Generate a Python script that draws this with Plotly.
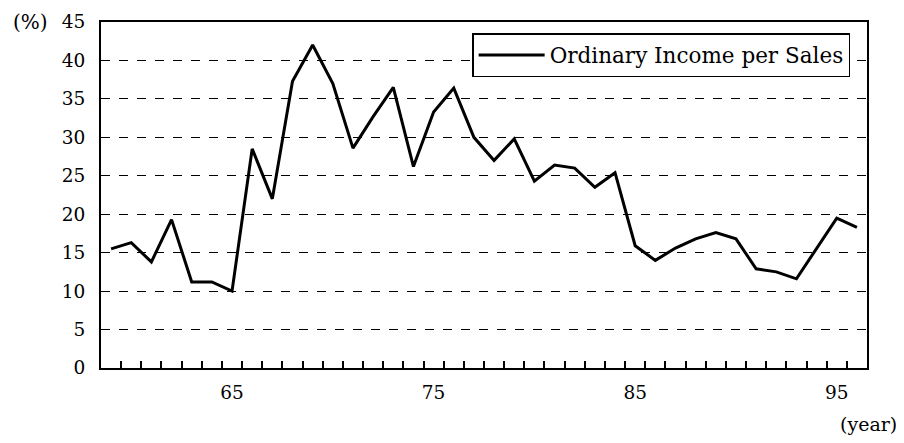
import plotly.graph_objects as go

years = list(range(1959, 1997))
values = [15.5, 16.3, 13.8, 19.3, 11.2, 11.2, 10.0, 28.5, 22.0, 37.3,
          42.0, 37.0, 28.6, 32.7, 36.5, 26.2, 33.3, 36.4, 30.0, 27.0,
          29.8, 24.3, 26.4, 26.0, 23.5, 25.4, 15.9, 14.0, 15.6, 16.8,
          17.6, 16.8, 12.9, 12.5, 11.6, 15.5, 19.5, 18.3]
y_ticks = list(range(0, 50, 5))
x_label_years = [1965, 1975, 1985, 1995]
x_labels = ["65", "75", "85", "95"]
series_name = "Ordinary Income per Sales"

FONT = "DejaVu Serif"

# page body has an 8px default margin; figure is sized to fit the window
fig = go.Figure()
fig.add_trace(go.Scatter(
    x=years, y=values, mode="lines", name=series_name,
    line=dict(color="black", width=3),
))

fig.update_layout(
    width=896, height=435,
    margin=dict(l=93, r=37, t=14, b=75),
    paper_bgcolor="white", plot_bgcolor="white",
    font=dict(family=FONT, size=18, color="black"),
    showlegend=True,
    legend=dict(
        x=0.978, y=0.968, xanchor="right", yanchor="top",
        bordercolor="black", borderwidth=1.5, bgcolor="white",
        font=dict(family=FONT, size=21.5, color="black"),
        itemwidth=66,
    ),
)

fig.update_xaxes(
    range=[years[0] - 0.5, years[-1] + 0.5],
    tickmode="array", tickvals=x_label_years, ticktext=x_labels,
    ticks="", showgrid=False, zeroline=False, automargin=False,
    showline=True, linecolor="black", linewidth=2, mirror=True,
    tickfont=dict(family=FONT, size=18.5),
    ticklabelstandoff=7,
    minor=dict(
        tickmode="array", tickvals=[y + 0.5 for y in years[:-1]],
        ticks="inside", ticklen=7, tickwidth=1.5, tickcolor="black",
        showgrid=False,
    ),
)
fig.update_yaxes(
    range=[0, 45], tickmode="array", tickvals=y_ticks,
    ticks="", showgrid=True, gridcolor="black", griddash="dash", gridwidth=1.3,
    zeroline=False, automargin=False,
    showline=True, linecolor="black", linewidth=2, mirror=True,
    tickfont=dict(family=FONT, size=18.5),
    ticklabelstandoff=10,
)

fig.add_annotation(text="(%)", xref="paper", yref="paper", x=-0.118, y=1.0,
                   xanchor="left", yanchor="middle", showarrow=False,
                   font=dict(family=FONT, size=20, color="black"))
fig.add_annotation(text="(year)", xref="paper", yref="paper", x=1.042, y=-0.162,
                   xanchor="right", yanchor="middle", showarrow=False,
                   font=dict(family=FONT, size=19, color="black"))

fig.write_html("out.html")
